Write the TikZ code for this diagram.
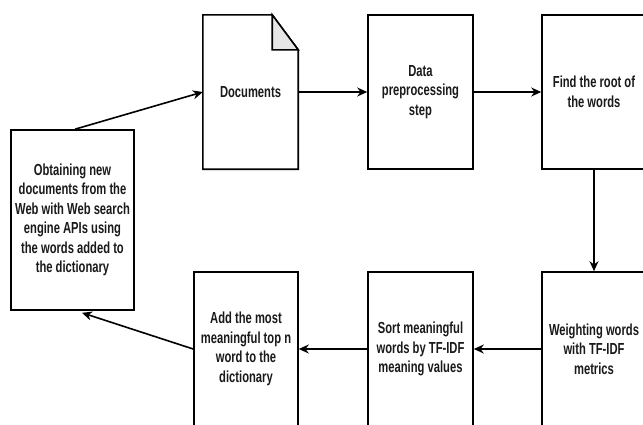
\documentclass[tikz,border=0pt]{standalone}
\usepackage{fontspec}
\setmainfont{Liberation Sans}[FakeStretch=0.7]
\usetikzlibrary{arrows.meta}
\definecolor{foldgray}{HTML}{E6E6E6}
\definecolor{ink}{HTML}{1A1A1A}
\begin{document}
\begin{tikzpicture}[x=1pt,y=-1pt,
  txt/.style={font=\bfseries\fontsize{16}{19.5}\selectfont, text=ink, align=center, inner sep=0pt},
  box/.style={txt, draw, line width=1.6pt, minimum width=105pt, minimum height=154pt},
  arr/.style={line width=1.6pt, -{Stealth[length=10pt,width=9pt]}}]
\useasboundingbox (0,0) rectangle (643,424);
\clip (0,0) rectangle (643,424);
\fill[white] (0,0) rectangle (643,424);

% Documents (document shape with folded corner)
\node[txt, minimum width=95pt, minimum height=154pt] (doc) at (250.5,92) {Documents};
\draw[line width=1.6pt] (doc.north west) -- ([xshift=-26pt]doc.north east)
  -- ([yshift=-35pt]doc.north east) -- (doc.south east) -- (doc.south west) -- cycle;
\draw[line width=1.6pt, fill=foldgray, line join=miter] ([xshift=-26pt]doc.north east)
  -- ([xshift=-26pt,yshift=-35pt]doc.north east) -- ([yshift=-35pt]doc.north east) -- cycle;

\node[box] (data) at (420.5,92) {Data\\preprocessing\\step};
\node[box, minimum width=104pt] (root) at (594,92) {Find the root of\\the words};
\node[box, minimum width=104pt] (weight) at (594,349) {Weighting words\\with TF-IDF\\metrics};
\node[box] (sort) at (420.5,349) {Sort meaningful\\words by TF-IDF\\meaning values};
\node[box, minimum width=104pt] (add) at (246,349) {Add the most\\meaningful top n\\word to the\\dictionary};
\node[box, minimum width=123pt, minimum height=180pt] (obt) at (72.5,220)
  {Obtaining new\\documents from the\\Web with Web search\\engine APIs using\\the words added to\\the dictionary};

\coordinate (obttop) at ([xshift=2.5pt]obt.north);
\coordinate (obtbot) at ([xshift=9.5pt,yshift=-2pt]obt.south);

\draw[arr] (doc.east) -- (data.west);
\draw[arr] (data.east) -- (root.west);
\draw[arr] (root.south) -- (weight.north);
\draw[arr] (weight.west) -- (sort.east);
\draw[arr] (sort.west) -- (add.east);
\draw[arr] (add.west) -- (obtbot);
\draw[arr] (obttop) -- (doc.west);
\end{tikzpicture}
\end{document}
